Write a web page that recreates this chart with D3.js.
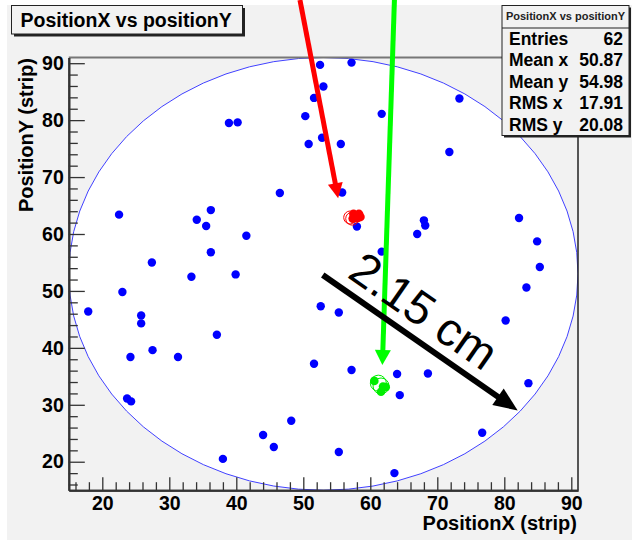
<!DOCTYPE html>
<html><head><meta charset="utf-8">
<script src="https://cdn.jsdelivr.net/npm/d3@7/dist/d3.min.js"></script>
<style>
html,body{margin:0;padding:0;background:#fff;}
svg{display:block;}
text{font-family:"Liberation Sans",Arial,Helvetica,sans-serif;}
</style></head>
<body>
<script>
// ---- data ----
const pointsX = [17.9,22.5,23.0,25.8,25.8,27.4,27.5,24.2,31.3,33.3,34.1,35.5,36.2,36.2,37.1,39.9,41.5,46.5,52.6,23.7,24.3,38.0,44.0,45.6,48.2,51.6,38.9,40.2,50.3,50.8,52.5,57.2,53.0,51.6,61.7,73.3,52.8,55.6,71.8,55.8,58.0,68.0,68.2,67.0,61.7,82.2,84.9,85.3,83.3,55.3,80.2,57.2,64.0,68.6,64.4,83.6,76.7,55.3,63.6];
const pointsY = [46.4,63.4,49.8,45.7,44.3,55.0,39.6,38.4,38.4,52.5,62.5,61.4,64.2,56.8,42.3,52.9,59.7,67.2,47.3,31.1,30.6,20.5,24.7,22.6,27.2,37.2,79.5,79.6,80.7,75.8,89.7,90.1,85.9,83.9,81.1,83.8,76.9,75.8,74.4,67.3,61.3,62.4,61.5,60.0,56.9,62.8,58.7,54.2,50.6,46.2,44.8,36.1,35.4,35.5,31.7,33.8,25.1,21.7,18.0];
const redX = [57.5,58.3,58.0,57.4,58.5];
const redY = [63.5,63.5,62.8,62.7,63.0];
const redOpenX = [57.0,57.3];
const redOpenY = [62.9,62.7];
const greenX = [60.6,61.9,61.6,62.3];
const greenY = [34.2,33.2,32.3,33.1];
const greenOpenX = [61.2,61.6];
const greenOpenY = [33.8,33.3];
const circleCenter = [53,53];
const circleRadius = 38;
const xDomain = [15,91];
const yDomain = [15,91];
const majorTicks = [20,30,40,50,60,70,80,90];
const title = "PositionX vs positionY";
const xTitle = "PositionX (strip)";
const yTitle = "PositionY (strip)";
const statsLabels = ["Entries","Mean x","Mean y","RMS x","RMS y"];
const statsValues = ["62","50.87","54.98","17.91","20.08"];
// arrows in data units: [x1,y1,x2,y2]
const redArrow = [49.5,101.1,55.2,66.3];
const greenArrow = [63.6,101.1,61.8,37.0];
const scaleArrow = [52.9,52.8,82.0,29.0];
const scaleLabel = "2.15 cm";

// ---- layout ----
const W = 632, H = 540;
const L = 68.8, R = 578, T = 57.5, B = 490.2;
const svg = d3.select("body").append("svg").attr("width",W).attr("height",H);
const bg = "#f2f2f2";
svg.append("rect").attr("x",7).attr("y",5).attr("width",W-7).attr("height",H-5).attr("fill",bg);

const x = d3.scaleLinear().domain(xDomain).range([L,R]);
const y = d3.scaleLinear().domain(yDomain).range([B,T]);

svg.append("clipPath").attr("id","plotclip").append("rect")
  .attr("x",L).attr("y",T).attr("width",R-L).attr("height",B-T);
const plot = svg.append("g").attr("clip-path","url(#plotclip)");
plot.append("ellipse")
  .attr("cx",x(circleCenter[0])).attr("cy",y(circleCenter[1]))
  .attr("rx",x(circleCenter[0]+circleRadius)-x(circleCenter[0]))
  .attr("ry",y(circleCenter[1])-y(circleCenter[1]+circleRadius))
  .attr("fill","#fff").attr("stroke","#4040ff").attr("stroke-width",1);

svg.append("line").attr("x1",L).attr("x2",R).attr("y1",T).attr("y2",T).attr("stroke","#777").attr("stroke-width",2);
svg.append("line").attr("x1",R).attr("x2",R).attr("y1",T).attr("y2",B).attr("stroke","#222").attr("stroke-width",1.5);

const minorTicks = d3.range(16,91,2).filter(v=>v%10!==0);
svg.append("g").attr("transform",`translate(0,${B})`)
  .call(d3.axisBottom(x).tickValues(majorTicks).tickSize(-13).tickSizeOuter(0).tickPadding(6));
svg.append("g").attr("transform",`translate(0,${B})`)
  .call(d3.axisBottom(x).tickValues(minorTicks).tickSize(-8).tickSizeOuter(0).tickFormat(""));
svg.append("g").attr("transform",`translate(${L},0)`)
  .call(d3.axisLeft(y).tickValues(majorTicks).tickSize(-16).tickSizeOuter(0).tickPadding(5));
svg.append("g").attr("transform",`translate(${L},0)`)
  .call(d3.axisLeft(y).tickValues(minorTicks).tickSize(-9).tickSizeOuter(0).tickFormat(""));
svg.selectAll(".domain").attr("stroke","#333").attr("stroke-width",2);
svg.selectAll(".tick line").attr("stroke","#333").attr("stroke-width",1.3);
svg.selectAll(".tick text").attr("font-family","'Liberation Sans',Arial,sans-serif")
  .attr("font-size",19.5).attr("font-weight","bold").attr("fill","#000");

plot.selectAll("circle.pt").data(pointsX.map((d,i)=>[d,pointsY[i]])).join("circle")
  .attr("class","pt").attr("cx",d=>x(d[0])).attr("cy",d=>y(d[1])).attr("r",4.2).attr("fill","#0000ff");
plot.selectAll("circle.ro").data(redOpenX.map((d,i)=>[d,redOpenY[i]])).join("circle")
  .attr("class","ro").attr("cx",d=>x(d[0])).attr("cy",d=>y(d[1])).attr("r",6.5)
  .attr("fill","none").attr("stroke","#ff0000").attr("stroke-width",1);
plot.selectAll("circle.rd").data(redX.map((d,i)=>[d,redY[i]])).join("circle")
  .attr("class","rd").attr("cx",d=>x(d[0])).attr("cy",d=>y(d[1])).attr("r",4.5).attr("fill","#ff0000");
plot.selectAll("circle.go").data(greenOpenX.map((d,i)=>[d,greenOpenY[i]])).join("circle")
  .attr("class","go").attr("cx",d=>x(d[0])).attr("cy",d=>y(d[1])).attr("r",8)
  .attr("fill","none").attr("stroke","#00ee00").attr("stroke-width",1);
plot.selectAll("circle.gd").data(greenX.map((d,i)=>[d,greenY[i]])).join("circle")
  .attr("class","gd").attr("cx",d=>x(d[0])).attr("cy",d=>y(d[1])).attr("r",4.3).attr("fill","#00ee00");

function arrow(a,color,lw,headLen,headHalf){
  const x1=x(a[0]),y1=y(a[1]),x2=x(a[2]),y2=y(a[3]);
  const dx=x2-x1,dy=y2-y1,len=Math.hypot(dx,dy),ux=dx/len,uy=dy/len;
  const bx=x2-ux*headLen,by=y2-uy*headLen;
  svg.append("line").attr("x1",x1).attr("y1",y1).attr("x2",bx+ux*1).attr("y2",by+uy*1)
    .attr("stroke",color).attr("stroke-width",lw);
  svg.append("path").attr("d",`M${x2},${y2}L${bx-uy*headHalf},${by+ux*headHalf}L${bx+uy*headHalf},${by-ux*headHalf}Z`)
    .attr("fill",color);
}
arrow(redArrow,"#ff0000",5,15,7.5);
arrow(greenArrow,"#00ff00",5,15,8);
arrow(scaleArrow,"#000",6,24,10);

{
  const x1=x(scaleArrow[0]),y1=y(scaleArrow[1]),x2=x(scaleArrow[2]),y2=y(scaleArrow[3]);
  const ang=Math.atan2(y2-y1,x2-x1);
  const ux=Math.cos(ang),uy=Math.sin(ang),nx=Math.sin(ang),ny=-Math.cos(ang);
  const px=x1+ux*20+nx*12, py=y1+uy*20+ny*12;
  svg.append("text").attr("transform",`translate(${px},${py}) rotate(${ang*180/Math.PI})`)
    .attr("font-size",47).attr("fill","#000").text(scaleLabel);
}

svg.append("text").attr("x",577).attr("y",530).attr("text-anchor","end")
  .attr("font-size",20).attr("font-weight","bold").text(xTitle);
svg.append("text").attr("transform","translate(33,58) rotate(-90)").attr("text-anchor","end")
  .attr("font-size",20).attr("font-weight","bold").text(yTitle);

svg.append("rect").attr("x",14).attr("y",8).attr("width",231).attr("height",28.5).attr("fill","#222");
svg.append("rect").attr("x",11.5).attr("y",5.5).attr("width",231).attr("height",28.5)
  .attr("fill",bg).attr("stroke","#222").attr("stroke-width",1);
svg.append("text").attr("x",20.5).attr("y",26.5).attr("font-size",19.5).attr("font-weight","bold").text(title);

svg.append("rect").attr("x",504).attr("y",7.5).attr("width",127).attr("height",130).attr("fill","#222");
svg.append("rect").attr("x",502).attr("y",5.5).attr("width",127).attr("height",130)
  .attr("fill",bg).attr("stroke","#222").attr("stroke-width",1);
svg.append("line").attr("x1",502).attr("x2",629).attr("y1",28).attr("y2",28).attr("stroke","#222");
svg.append("text").attr("x",565.5).attr("y",20).attr("text-anchor","middle")
  .attr("font-size",11).attr("font-weight","bold").attr("fill","#222").text(title);
statsLabels.forEach((s,i)=>{
  svg.append("text").attr("x",509).attr("y",44.5+i*21.6).attr("font-size",17.5).attr("font-weight","bold").text(s);
  svg.append("text").attr("x",623).attr("y",44.5+i*21.6).attr("text-anchor","end").attr("font-size",17.5).attr("font-weight","bold").text(statsValues[i]);
});
</script>
</body></html>
